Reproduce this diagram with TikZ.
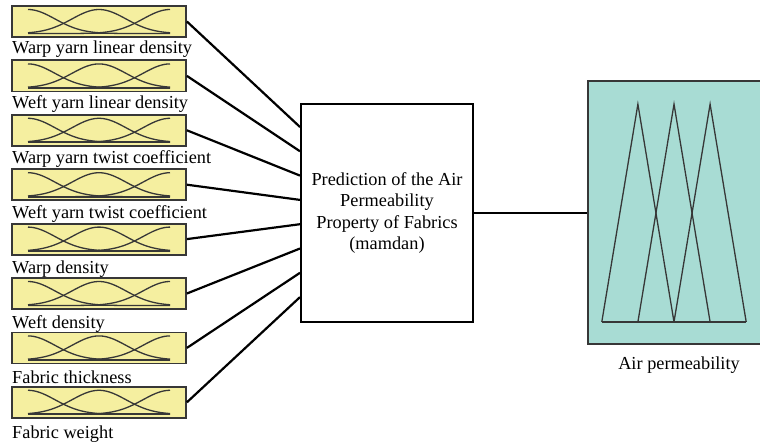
\documentclass[tikz,border=0pt]{standalone}
\usepackage{fontspec}
\setmainfont{Liberation Serif}
\usepackage{xcolor}
\usepackage{tikz}
\usetikzlibrary{positioning,calc}

\definecolor{mfyellow}{RGB}{245,239,160}
\definecolor{outteal}{RGB}{168,220,212}
\definecolor{mfgray}{RGB}{55,55,55}

\begin{document}
\begin{tikzpicture}[x=1pt,y=-1pt,
    mfbox/.style={draw=mfgray, line width=1.8pt, fill=mfyellow, minimum width=174pt, minimum height=31pt, inner sep=0pt},
    lbl/.style={font=\fontsize{18.3}{21.3}\selectfont, inner sep=0pt},
    link/.style={line width=2.2pt},
    mfcurve/.style={mfgray, line width=1.3pt}]
    \path[use as bounding box, clip] (0,0) rectangle (760,444);

    % fuzzy system block
    \node[draw, line width=2pt, fill=white, minimum width=172pt, minimum height=218pt, align=center, lbl] (pred) at (387,213)
        {Prediction of the Air\\Permeability\\Property of Fabrics\\(mamdan)};

    % input membership functions
    \foreach \i/\txt in {1/Warp yarn linear density, 2/Weft yarn linear density,
                         3/Warp yarn twist coefficient, 4/Weft yarn twist coefficient,
                         5/Warp density, 6/Weft density,
                         7/Fabric thickness, 8/Fabric weight}
    {
        \node[mfbox] (m\i) at (99,{21.5+54.4*(\i-1)}) {};
        \node[lbl, anchor=base west] (t\i) at (12,{53+55*(\i-1)}) {\txt};
        \begin{scope}[shift={(m\i.center)}]
            \foreach \c in {-71,0,71}
                \draw[mfcurve] plot[domain=-71:71, samples=50, smooth] (\x,{12-24*exp(-0.5*((\x-(\c))/27)^2)});
            \draw[mfgray, line width=1.8pt] (-71,12) -- (71,12);
        \end{scope}
        \coordinate (p\i) at ($(pred.north west)+(0,{24+24.3*(\i-1)})$);
        \draw[link] (m\i.east) -- (p\i);
    }

    % output membership functions
    \node[draw=mfgray, line width=1.8pt, fill=outteal, minimum width=182pt, minimum height=263pt, inner sep=0pt] (ap) at (679,212.5) {};
    \node[lbl, anchor=base] (aplbl) at ($(ap.south)+(0,25)$) {Air permeability};
    \foreach \k in {0,1,2}
        \draw[mfcurve] ($(ap.south west)+({14.7+36.1*\k},-23)$) -- ++(36.1,-217.7) -- ++(36.1,217.7);
    \draw[mfgray, line width=1.6pt] ($(ap.south west)+(14.7,-23)$) -- ++(144.4,0);

    \draw[link] (pred.east) -- (pred.east -| ap.west);
\end{tikzpicture}
\end{document}
